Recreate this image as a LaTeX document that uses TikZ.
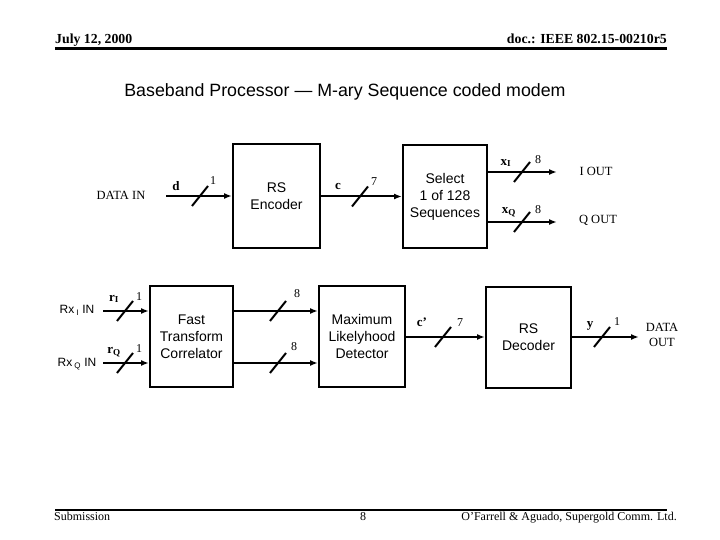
\documentclass[tikz,border=0pt]{standalone}
\usepackage{fontspec}
\setmainfont{Liberation Serif}
\setsansfont{Liberation Sans}
\usetikzlibrary{arrows.meta,positioning,calc}

\begin{document}
\begin{tikzpicture}[
    x=1pt, y=-1pt,
    blk/.style={rectangle, draw, line width=2pt, align=center, inner sep=0pt, font=\sffamily\fontsize{14}{17}\selectfont},
    arr/.style={-{Latex[length=8pt,width=6pt]}, line width=2pt},
    slash/.style={line width=2pt},
    lbl/.style={inner sep=0pt, font=\bfseries\fontsize{13}{15}\selectfont},
    num/.style={inner sep=0pt, font=\fontsize{12}{14}\selectfont},
    io/.style={inner sep=0pt, align=center, font=\fontsize{12.5}{15}\selectfont},
    rx/.style={inner sep=0pt, font=\sffamily\fontsize{12}{14}\selectfont}
]
    \useasboundingbox (0,0) rectangle (720,540);

    % header and footer
    \node [anchor=base west, inner sep=0pt, font=\bfseries\fontsize{13.8}{15}\selectfont] (date) at (55,43.5) {July 12, 2000};
    \node [anchor=base east, inner sep=0pt, font=\bfseries\fontsize{13.8}{15}\selectfont] (doc) at (667,43.5) {doc.: IEEE 802.15-00210r5};
    \draw [line width=2.2pt] (55,48.5) -- (667,48.5);
    \node [anchor=base, inner sep=0pt, font=\sffamily\fontsize{17.8}{20}\selectfont] (title) at (345,97) {Baseband Processor --- M-ary Sequence coded modem};
    \draw [line width=2.2pt] (55,510) -- (667,510);
    \node [anchor=base west, inner sep=0pt, font=\fontsize{12}{14}\selectfont] (sub) at (54,520) {Submission};
    \node [anchor=base, inner sep=0pt, font=\fontsize{12}{14}\selectfont] (page) at (363,520) {8};
    \node [anchor=base east, inner sep=0pt, font=\fontsize{12}{14}\selectfont] (auth) at (677,520) {O’Farrell \& Aguado, Supergold Comm. Ltd.};

    % blocks
    \node [blk, minimum width=87, minimum height=103] (enc) at (276.5,196) {RS\\Encoder};
    \node [blk, minimum width=84, minimum height=103] (sel) at (445,196.5) {Select\\1 of 128\\Sequences};
    \node [blk, minimum width=83, minimum height=101] (ftc) at (191.5,336.5) {Fast\\Transform\\Correlator};
    \node [blk, minimum width=86, minimum height=101] (mld) at (362,336.5) {Maximum\\Likelyhood\\Detector};
    \node [blk, minimum width=85, minimum height=101] (dec) at (528.5,337) {RS\\Decoder};

    % inputs and outputs
    \node [io] (din) at (121,195) {DATA IN};
    \node [io] (iout) at (596,171) {I OUT};
    \node [io] (qout) at (598,220) {Q OUT};
    \node [rx] (rxi) at (77,310) {Rx\,\textsubscript{I} IN};
    \node [rx] (rxq) at (77,364) {Rx\,\textsubscript{Q} IN};
    \node [io] (dout) at (662,335) {DATA\\OUT};
    \coordinate (d0) at (166,196);
    \coordinate (xi1) at (557,172);
    \coordinate (xq1) at (557,222);
    \coordinate (ri0) at (103,311);
    \coordinate (rq0) at (103,363);
    \coordinate (y1) at (639,337);

    % connectors
    \draw [arr] (d0) -- (d0 -| enc.west);
    \draw [arr] (enc.east |- sel) -- (sel.west);
    \draw [arr] (sel.east |- xi1) -- (xi1);
    \draw [arr] (sel.east |- xq1) -- (xq1);
    \draw [arr] (ri0) -- (ri0 -| ftc.west);
    \draw [arr] (rq0) -- (rq0 -| ftc.west);
    \draw [arr] (ftc.east |- ri0) -- (mld.west |- ri0);
    \draw [arr] (ftc.east |- rq0) -- (mld.west |- rq0);
    \draw [arr] (mld.east |- dec) -- (dec.west);
    \draw [arr] (dec.east) -- (y1);

    % bus width marks
    \foreach \sx/\sy in {200/196, 360/196.5, 522/172, 522/222, 125/311, 125/363, 278/311, 278/363, 443/337, 602/337}
        \draw [slash] ({\sx-8},{\sy+10}) -- ({\sx+8},{\sy-10});

    % signal labels
    \node [lbl] at (176,186) {d};
    \node [num] at (213,181) {1};
    \node [lbl] at (338,186) {c};
    \node [num] at (374,182) {7};
    \node [lbl] at (506,163) {x\textsubscript{I}};
    \node [num] at (538,160) {8};
    \node [lbl] at (509,212) {x\textsubscript{Q}};
    \node [num] at (538,210) {8};
    \node [lbl] at (114,299) {r\textsubscript{I}};
    \node [num] at (139,297) {1};
    \node [lbl] at (114,352) {r\textsubscript{Q}};
    \node [num] at (139,349) {1};
    \node [num] at (297,294) {8};
    \node [num] at (294,347) {8};
    \node [lbl] at (422,322) {c’};
    \node [num] at (460,323) {7};
    \node [lbl] at (590,326) {y};
    \node [num] at (617,322) {1};
\end{tikzpicture}
\end{document}
